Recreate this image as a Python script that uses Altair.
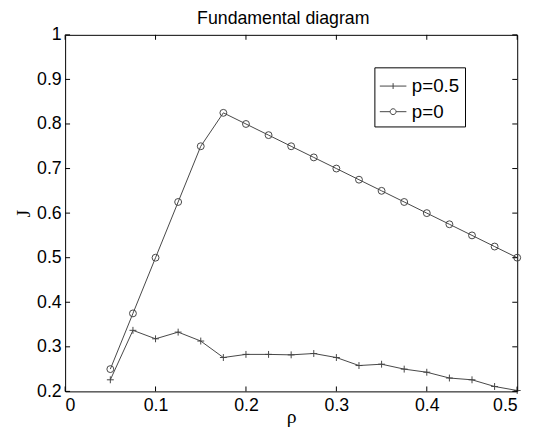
import altair as alt
import pandas as pd

rho = [0.05, 0.075, 0.1, 0.125, 0.15, 0.175, 0.2, 0.225, 0.25, 0.275, 0.3,
       0.325, 0.35, 0.375, 0.4, 0.425, 0.45, 0.475, 0.5]
J_p05 = [0.226, 0.337, 0.318, 0.333, 0.313, 0.276, 0.283, 0.283, 0.282, 0.285,
         0.276, 0.258, 0.261, 0.250, 0.243, 0.230, 0.226, 0.211, 0.202]
J_p0 = [0.25, 0.375, 0.5, 0.625, 0.75, 0.825, 0.8, 0.775, 0.75, 0.725, 0.7,
        0.675, 0.65, 0.625, 0.6, 0.575, 0.55, 0.525, 0.5]
series_names = ["p=0.5", "p=0"]
x_ticks = [0, 0.1, 0.2, 0.3, 0.4, 0.5]
y_ticks = [0.2, 0.3, 0.4, 0.5, 0.6, 0.7, 0.8, 0.9, 1.0]
title_text = ["Fundamental diagram"]

df = pd.DataFrame({
    "series": [series_names[0]] * len(rho) + [series_names[1]] * len(rho),
    "rho": rho + rho,
    "J": J_p05 + J_p0,
})
xt = pd.DataFrame({"v": x_ticks})
yt = pd.DataFrame({"v": y_ticks})
tt = pd.DataFrame({"t": title_text})

W, H = 459, 362
LINE = "#454545"
FONT = "Liberation Sans"
SERIF = "Liberation Serif"
TL = 5

xscale = alt.Scale(domain=[0, 0.5], nice=False, zero=False)
yscale = alt.Scale(domain=[0.2, 1.0], nice=False, zero=False)

common_axis = dict(format="~g", titleFont=SERIF, titleFontSize=20,
                   titleFontWeight="normal", titleColor="black",
                   domain=False, ticks=False, tickSize=0, grid=False,
                   labelFont=FONT, labelFontSize=18, labelColor="black")
xax = alt.Axis(values=x_ticks, title="ρ", titleBaseline="alphabetic", titlePadding=9,
               labelPadding=5, **common_axis)
yax = alt.Axis(values=y_ticks, title="J", titlePadding=3, labelPadding=4, **common_axis)

X = alt.X("rho:Q", scale=xscale, axis=xax)
Y = alt.Y("J:Q", scale=yscale, axis=yax)

lines = alt.Chart(df).mark_line(color=LINE, strokeWidth=1).encode(
    x=X, y=Y, detail="series:N")

points = alt.Chart(df).mark_point(filled=False, size=49, strokeWidth=1, color=LINE, opacity=1).encode(
    x=X, y=Y,
    shape=alt.Shape("series:N", scale=alt.Scale(domain=series_names,
                                                range=["M-1,0H1M0,-1V1", "circle"]),
                    legend=None))

leg_paths = [
    "M-1,0H1M0,-0.22V0.22",
    "M-1,0H-0.22M0.22,0H1M0.22,0A0.22,0.22,0,1,1,-0.22,0A0.22,0.22,0,1,1,0.22,0",
]
legend_layer = alt.Chart(df).transform_filter("false").mark_point(
    filled=False, size=729, strokeWidth=1, color=LINE, opacity=1).encode(
    x=alt.X("rho:Q", scale=xscale),
    y=alt.Y("J:Q", scale=yscale),
    shape=alt.Shape("series:N",
                    scale=alt.Scale(domain=series_names, range=leg_paths),
                    legend=alt.Legend(title=None, orient="none", legendX=314, legendY=33,
                                      strokeColor="black", fillColor="white", padding=5,
                                      labelFont=FONT, labelFontSize=19, labelColor="black",
                                      labelOffset=5, rowPadding=2, symbolSize=729,
                                      symbolStrokeWidth=1, symbolStrokeColor=LINE,
                                      symbolFillColor="transparent",
                                      labelExpr="datum.label + ' '")))

tick_style = dict(color="black", strokeWidth=1)
xt_bottom = alt.Chart(xt).mark_rule(**tick_style).encode(
    x=alt.X("v:Q", scale=xscale), y=alt.value(H - TL), y2=alt.value(H))
xt_top = alt.Chart(xt).mark_rule(**tick_style).encode(
    x=alt.X("v:Q", scale=xscale), y=alt.value(0), y2=alt.value(TL))
yt_left = alt.Chart(yt).mark_rule(**tick_style).encode(
    y=alt.Y("v:Q", scale=yscale), x=alt.value(0), x2=alt.value(TL))
yt_right = alt.Chart(yt).mark_rule(**tick_style).encode(
    y=alt.Y("v:Q", scale=yscale), x=alt.value(W - TL), x2=alt.value(W))

title_layer = alt.Chart(tt).mark_text(
    font=FONT, fontSize=18, color="black", align="center", baseline="alphabetic"
).encode(text="t:N", x=alt.value(W / 2 - 8), y=alt.value(-11))

chart = alt.layer(lines, points, xt_bottom, xt_top, yt_left, yt_right, title_layer,
                  legend_layer).resolve_scale(
    shape="independent"
).properties(
    width=W, height=H,
    background="white",
    autosize=alt.AutoSizeParams(type="none"),
    padding={"left": 58, "top": 24, "right": 14, "bottom": 40},
).configure_view(
    stroke="black", strokeWidth=1
)

chart.save("out.html", embed_options={"renderer": "svg", "actions": False})
